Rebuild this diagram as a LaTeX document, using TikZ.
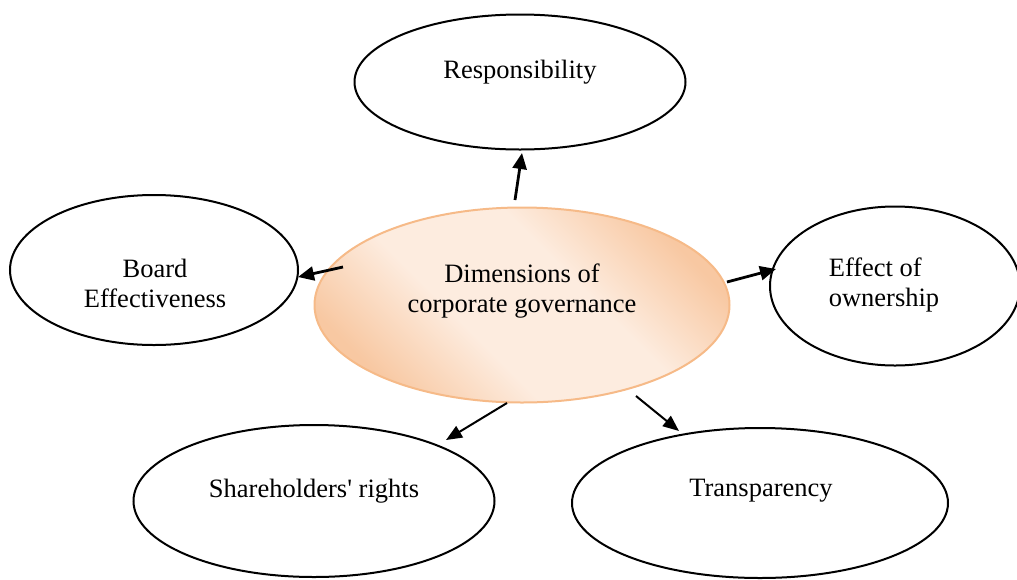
\documentclass[tikz,border=0pt]{standalone}
\usepackage{fontspec}
\setmainfont{Liberation Serif}
\newfontfamily\plainserif{Liberation Serif}
\usetikzlibrary{shapes.geometric,arrows.meta}
\definecolor{peachdark}{RGB}{248,200,162}
\definecolor{peachlight}{RGB}{253,236,223}
\definecolor{peachedge}{RGB}{246,186,136}
\pgfdeclarehorizontalshading{peachband}{100bp}{color(0bp)=(peachdark); color(25bp)=(peachdark); color(41bp)=(peachlight); color(59bp)=(peachlight); color(75bp)=(peachdark); color(100bp)=(peachdark)}
\tikzset{
  bubble/.style={ellipse, draw=black, line width=1pt, fill=white, inner sep=0pt},
  hub/.style={ellipse, draw=peachedge, line width=1pt, inner sep=0pt,
    shading=peachband, shading angle=45},
  txt/.style={font=\fontsize{13.25}{15}\selectfont, inner sep=0pt},
  arr/.style={-{Triangle[length=8pt,width=7pt]}, line width=1.4pt},
  arrthin/.style={-{Triangle[length=8pt,width=6.5pt]}, line width=1pt}
}
\begin{document}
\begin{tikzpicture}[x=0.5pt,y=-0.5pt]
\useasboundingbox (0,0) rectangle (1017,579);
% ellipses
\node[bubble, minimum width=331*0.5pt, minimum height=135*0.5pt] (resp) at (520,82) {};
\node[bubble, minimum width=288*0.5pt, minimum height=150*0.5pt] (board) at (154,270) {};
\node[hub, minimum width=415*0.5pt, minimum height=195*0.5pt] (hub) at (522,305) {};
\node[bubble, minimum width=250*0.5pt, minimum height=159*0.5pt] (own) at (895,286) {};
\node[bubble, minimum width=361*0.5pt, minimum height=152*0.5pt] (share) at (314,501) {};
\node[bubble, minimum width=376*0.5pt, minimum height=150*0.5pt] (trans) at (760,503) {};
% texts
\node[txt] (respt) at (520,72) {Responsibility};
\node[txt, align=center] (boardt) at (155,283) {Board\\Effectiveness};
\node[txt, align=center] (hubt) at (522,291) {Dimensions of\\corporate governance};
\node[txt, align=left] (ownt) at (884,285) {Effect of\\ownership};
\node[txt] (sharet) at (314,491) {{\plainserif Shareholders' rights}};
\node[txt] (transt) at (761,491) {Transparency};
% arrow end points
\path (515,200) coordinate (a1s) (522,153) coordinate (a1e)
      (343,267) coordinate (a2s) (298,277) coordinate (a2e)
      (727,282) coordinate (a3s) (776,269) coordinate (a3e)
      (507,403) coordinate (a4s) (446,440) coordinate (a4e)
      (636,396) coordinate (a5s) (679,431) coordinate (a5e);
\draw[arr] (a1s) -- (a1e);
\draw[arr] (a2s) -- (a2e);
\draw[arr] (a3s) -- (a3e);
\draw[arrthin] (a4s) -- (a4e);
\draw[arrthin] (a5s) -- (a5e);
\end{tikzpicture}
\end{document}
